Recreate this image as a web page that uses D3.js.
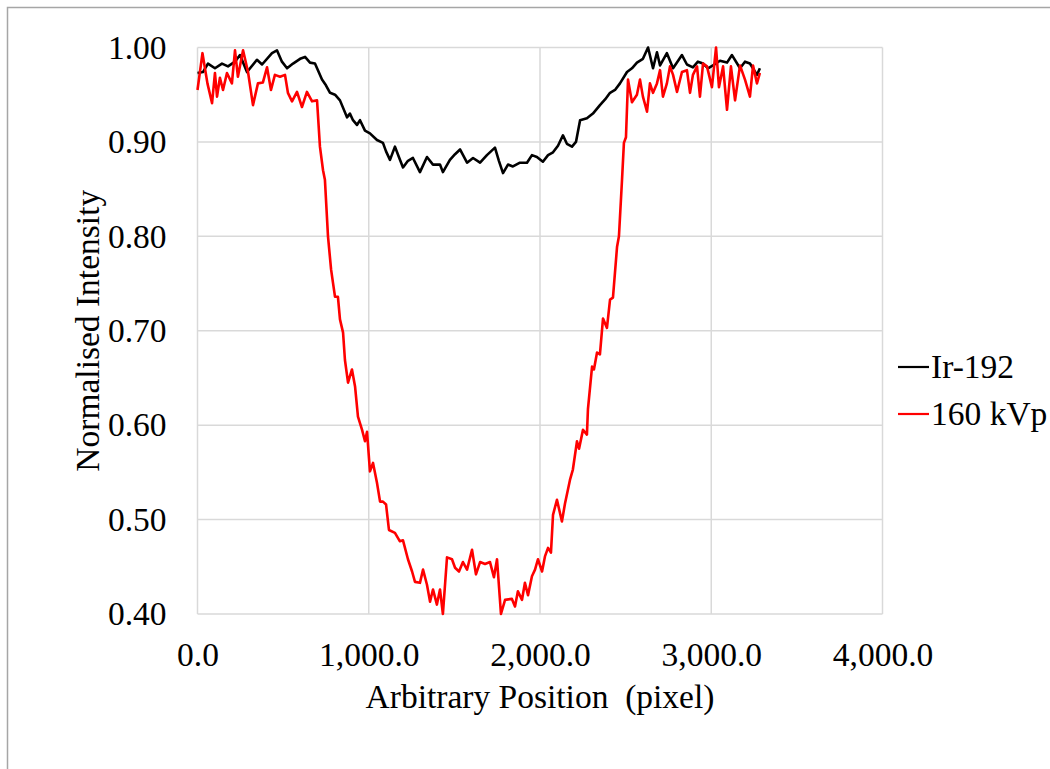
<!DOCTYPE html>
<html><head><meta charset="utf-8">
<script src="https://cdn.jsdelivr.net/npm/d3@7"></script>
<style>html,body{margin:0;padding:0;background:#fff;}svg{display:block;}</style>
</head><body>
<svg id="chart" width="1050" height="769"></svg>
<script>
// ---- data ----
const irX = [0,32,61,102,143,178,219,248,289,347,377,435,464,493,523,558,599,628,657,686,727,750,774,803,832,873,890,908,931,949,978,1007,1048,1083,1101,1124,1153,1176,1200,1229,1258,1299,1340,1375,1416,1433,1474,1504,1533,1574,1609,1650,1690,1737,1760,1784,1813,1842,1883,1924,1953,1982,2017,2047,2076,2105,2134,2157,2187,2210,2234,2274,2309,2350,2380,2409,2438,2467,2508,2537,2566,2601,2631,2660,2683,2701,2741,2777,2829,2858,2893,2922,2952,2981,3010,3051,3092,3121,3168,3197,3226,3267,3284];
const irY = [0.973,0.974,0.983,0.978,0.983,0.980,0.985,0.992,0.974,0.987,0.982,0.994,0.997,0.985,0.978,0.983,0.988,0.990,0.984,0.983,0.966,0.960,0.952,0.950,0.944,0.926,0.930,0.923,0.918,0.923,0.912,0.909,0.902,0.899,0.890,0.881,0.895,0.884,0.873,0.880,0.883,0.868,0.884,0.876,0.876,0.868,0.881,0.887,0.892,0.878,0.883,0.878,0.886,0.894,0.880,0.867,0.876,0.874,0.878,0.878,0.886,0.884,0.879,0.886,0.889,0.896,0.907,0.898,0.895,0.900,0.923,0.925,0.930,0.939,0.945,0.952,0.955,0.962,0.974,0.978,0.984,0.988,1.000,0.978,0.995,0.981,0.994,0.978,0.992,0.982,0.979,0.985,0.983,0.978,0.981,0.986,0.984,0.992,0.978,0.985,0.983,0.971,0.978];

const kvX = [0,29,58,85,102,114,131,149,172,201,219,236,266,295,324,353,382,406,429,452,482,511,528,552,581,610,639,669,698,715,733,744,762,780,791,803,820,832,850,861,879,902,920,937,961,978,990,1007,1025,1048,1066,1083,1101,1118,1153,1182,1200,1229,1253,1270,1299,1317,1340,1358,1375,1398,1416,1433,1457,1486,1504,1527,1550,1574,1603,1626,1650,1679,1708,1731,1749,1772,1796,1836,1854,1871,1895,1912,1930,1953,1971,1988,2012,2029,2047,2064,2076,2099,2128,2146,2175,2192,2216,2228,2251,2274,2280,2304,2315,2333,2350,2368,2391,2409,2426,2450,2461,2479,2490,2502,2514,2537,2566,2584,2601,2625,2642,2660,2683,2701,2718,2741,2759,2777,2800,2829,2858,2876,2893,2917,2934,2952,2975,3004,3028,3045,3069,3092,3115,3139,3168,3197,3226,3244,3267,3284];
const kvY = [0.955,0.994,0.962,0.941,0.973,0.948,0.968,0.955,0.973,0.962,0.997,0.969,0.997,0.974,0.939,0.962,0.963,0.979,0.955,0.971,0.969,0.971,0.952,0.943,0.953,0.937,0.953,0.943,0.944,0.895,0.870,0.860,0.800,0.765,0.751,0.736,0.736,0.712,0.698,0.669,0.645,0.659,0.641,0.609,0.595,0.583,0.593,0.551,0.560,0.539,0.519,0.519,0.516,0.489,0.486,0.477,0.478,0.458,0.445,0.434,0.433,0.447,0.431,0.413,0.426,0.410,0.426,0.400,0.460,0.458,0.449,0.445,0.455,0.447,0.468,0.442,0.455,0.453,0.455,0.439,0.458,0.400,0.415,0.416,0.408,0.424,0.415,0.433,0.420,0.440,0.447,0.458,0.445,0.461,0.470,0.465,0.505,0.521,0.498,0.517,0.542,0.553,0.583,0.575,0.595,0.590,0.617,0.662,0.659,0.677,0.675,0.713,0.703,0.733,0.735,0.789,0.800,0.860,0.899,0.905,0.966,0.942,0.950,0.966,0.948,0.932,0.962,0.952,0.962,0.976,0.948,0.962,0.980,0.971,0.953,0.974,0.976,0.952,0.971,0.980,0.948,0.983,0.980,0.958,1.000,0.958,0.980,0.934,0.980,0.944,0.981,0.966,0.948,0.981,0.962,0.973];

const xTicks = [0,1000,2000,3000,4000];
const yTicks = [0.4,0.5,0.6,0.7,0.8,0.9,1.0];
const seriesNames = ["Ir-192","160 kVp"];
const seriesColors = ["#000000","#ff0000"];
const xTitle = "Arbitrary Position  (pixel)";
const yTitle = "Normalised Intensity";

// ---- layout ----
const L = 197.5, R = 882.5, T = 47.5, B = 614;
const FONT = "'Liberation Serif','Times New Roman',serif";
const FS = 33.5;
const svg = d3.select("#chart");

svg.append("rect").attr("x",7.5).attr("y",7.5).attr("width",1060).attr("height",780)
  .attr("fill","#fff").attr("stroke","#a6a6a6").attr("stroke-width",1.5);

const x = d3.scaleLinear().domain([0,4000]).range([L,R]);
const y = d3.scaleLinear().domain([0.4,1.0]).range([B,T]);

// gridlines
const g = svg.append("g");
g.selectAll("line.h").data(yTicks).enter().append("line")
  .attr("x1",L).attr("x2",R).attr("y1",d=>y(d)).attr("y2",d=>y(d))
  .attr("stroke","#d9d9d9").attr("stroke-width",1.5);
g.selectAll("line.v").data(xTicks).enter().append("line")
  .attr("y1",T).attr("y2",B).attr("x1",d=>x(d)).attr("x2",d=>x(d))
  .attr("stroke","#d9d9d9").attr("stroke-width",1.5);

// axes labels via d3 axes (no lines)
const yAxis = svg.append("g").attr("transform",`translate(${L-31},0)`)
  .call(d3.axisLeft(y).tickValues(yTicks).tickFormat(d3.format(".2f")).tickSize(0).tickPadding(0));
const xAxis = svg.append("g").attr("transform",`translate(0,${B+28})`)
  .call(d3.axisBottom(x).tickValues(xTicks).tickFormat(d3.format(",.1f")).tickSize(0).tickPadding(0));
[yAxis,xAxis].forEach(a=>{
  a.select(".domain").remove();
  a.selectAll("text").attr("font-family",FONT).attr("font-size",FS).attr("fill","#000");
});
xAxis.selectAll("text").attr("dy","0.71em");

// lines
const line = d3.line().x(d=>x(d[0])).y(d=>y(d[1]));
const series = [d3.zip(irX,irY), d3.zip(kvX,kvY)];
svg.append("path").datum(series[0]).attr("d",line).attr("fill","none")
  .attr("stroke",seriesColors[0]).attr("stroke-width",2.6).attr("stroke-linejoin","round");
svg.append("path").datum(series[1]).attr("d",line).attr("fill","none")
  .attr("stroke",seriesColors[1]).attr("stroke-width",2.6).attr("stroke-linejoin","round");

// titles
svg.append("text").attr("x",(L+R)/2).attr("y",708).attr("text-anchor","middle")
  .attr("font-family",FONT).attr("font-size",FS).attr("fill","#000")
  .attr("xml:space","preserve").style("white-space","pre").text(xTitle);
svg.append("text").attr("transform",`translate(99,${(T+B)/2}) rotate(-90)`).attr("text-anchor","middle")
  .attr("font-family",FONT).attr("font-size",FS).attr("fill","#000").text(yTitle);

// legend
const legY = [367, 414];
seriesNames.forEach((n,i)=>{
  svg.append("line").attr("x1",898).attr("x2",929).attr("y1",legY[i]).attr("y2",legY[i])
    .attr("stroke",seriesColors[i]).attr("stroke-width",2.2);
  svg.append("text").attr("x",931).attr("y",legY[i]+11).attr("font-family",FONT)
    .attr("font-size",FS).attr("fill","#000").text(n);
});
</script>
</body></html>
